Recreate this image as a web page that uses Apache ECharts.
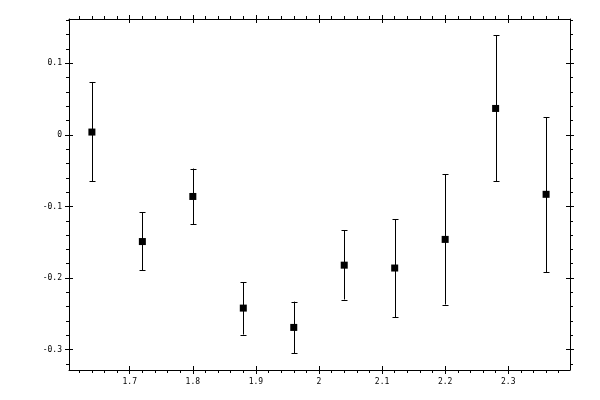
<!DOCTYPE html>
<html>
<head>
<meta charset="utf-8">
<script src="https://cdn.jsdelivr.net/npm/echarts@6/dist/echarts.min.js"></script>
<style>html,body{margin:0;padding:0;background:#fff}#c{width:600px;height:400px}</style>
</head>
<body>
<div id="c"></div>
<script>
const xValues = [1.64, 1.72, 1.80, 1.88, 1.96, 2.04, 2.12, 2.20, 2.28, 2.36];
const yValues = [0.004, -0.149, -0.086, -0.242, -0.269, -0.182, -0.186, -0.146, 0.037, -0.083];
const yHigh = [0.074, -0.108, -0.047, -0.206, -0.233, -0.133, -0.118, -0.055, 0.139, 0.025];
const yLow = [-0.065, -0.189, -0.125, -0.279, -0.305, -0.230, -0.255, -0.237, -0.065, -0.192];
const xMajorTicks = [1.7, 1.8, 1.9, 2.0, 2.1, 2.2, 2.3];
const xMinorTicks = [1.62,1.64,1.66,1.68,1.72,1.74,1.76,1.78,1.82,1.84,1.86,1.88,1.92,1.94,1.96,1.98,2.02,2.04,2.06,2.08,2.12,2.14,2.16,2.18,2.22,2.24,2.26,2.28,2.32,2.34,2.36,2.38];
const yMajorTicks = [-0.3, -0.2, -0.1, 0, 0.1];
const yMinorTicks = [-0.32,-0.28,-0.26,-0.24,-0.22,-0.18,-0.16,-0.14,-0.12,-0.08,-0.06,-0.04,-0.02,0.02,0.04,0.06,0.08,0.12,0.14,0.16];
const xMin = 1.6037, xMax = 2.3979;
const yMin = -0.3285, yMax = 0.162;

const chart = echarts.init(document.getElementById('c'), null, {renderer: 'canvas'});
const font = {fontFamily: 'DejaVu Sans Mono', fontSize: 8, color: '#000'};

function mkAxis(pos, min, max, isX, ticks, inside, len, showLine, showLabel) {
  return {
    type: 'value', position: pos, min: min, max: max,
    axisLine: {show: showLine, onZero: false, lineStyle: {color: '#000', width: 1}},
    splitLine: {show: false},
    axisTick: {show: true, inside: inside, length: len, customValues: ticks, lineStyle: {color: '#000', width: 1}},
    axisLabel: showLabel ? Object.assign({show: true, customValues: ticks, margin: isX ? 8 : 7,
      formatter: v => (Math.round(v * 10) / 10).toString()}, font) : {show: false},
    minorTick: {show: false}
  };
}
const xAxes = [
  mkAxis('bottom', xMin, xMax, true, xMajorTicks, false, 4, true, true),
  mkAxis('bottom', xMin, xMax, true, xMajorTicks, true, 4, false, false),
  mkAxis('bottom', xMin, xMax, true, xMinorTicks, false, 3, false, false),
  mkAxis('top', xMin, xMax, true, xMajorTicks, false, 4, true, false),
  mkAxis('top', xMin, xMax, true, xMajorTicks, true, 4, false, false),
  mkAxis('top', xMin, xMax, true, xMinorTicks, false, 3, false, false)
];
const yAxes = [
  mkAxis('left', yMin, yMax, false, yMajorTicks, false, 4, true, true),
  mkAxis('left', yMin, yMax, false, yMajorTicks, true, 4, false, false),
  mkAxis('left', yMin, yMax, false, yMinorTicks, false, 3, false, false),
  mkAxis('right', yMin, yMax, false, yMajorTicks, false, 4, true, false),
  mkAxis('right', yMin, yMax, false, yMajorTicks, true, 4, false, false),
  mkAxis('right', yMin, yMax, false, yMinorTicks, false, 3, false, false)
];

const errData = xValues.map((x, i) => [x, yLow[i], yHigh[i]]);
const ptData = xValues.map((x, i) => [x, yValues[i]]);

chart.setOption({
  animation: false,
  backgroundColor: '#fff',
  grid: {left: 69, right: 30, top: 19, bottom: 30, containLabel: false},
  xAxis: xAxes,
  yAxis: yAxes,
  series: [
    {
      type: 'custom', xAxisIndex: 0, yAxisIndex: 0, data: errData,
      renderItem: function (params, api) {
        const x = api.value(0);
        const lo = api.coord([x, api.value(1)]);
        const hi = api.coord([x, api.value(2)]);
        const cx = Math.round(lo[0]) + 0.5;
        const w = 3;
        const st = {stroke: '#000', lineWidth: 1, fill: null};
        return {type: 'group', children: [
          {type: 'line', shape: {x1: cx, y1: hi[1], x2: cx, y2: lo[1]}, style: st},
          {type: 'line', shape: {x1: cx - w, y1: Math.round(hi[1]) + 0.5, x2: cx + w, y2: Math.round(hi[1]) + 0.5}, style: st},
          {type: 'line', shape: {x1: cx - w, y1: Math.round(lo[1]) + 0.5, x2: cx + w, y2: Math.round(lo[1]) + 0.5}, style: st}
        ]};
      },
      z: 2
    },
    {
      type: 'scatter', xAxisIndex: 0, yAxisIndex: 0, data: ptData,
      symbol: 'rect', symbolSize: 7,
      itemStyle: {color: '#000', opacity: 1},
      z: 3
    }
  ]
});
</script>
</body>
</html>
